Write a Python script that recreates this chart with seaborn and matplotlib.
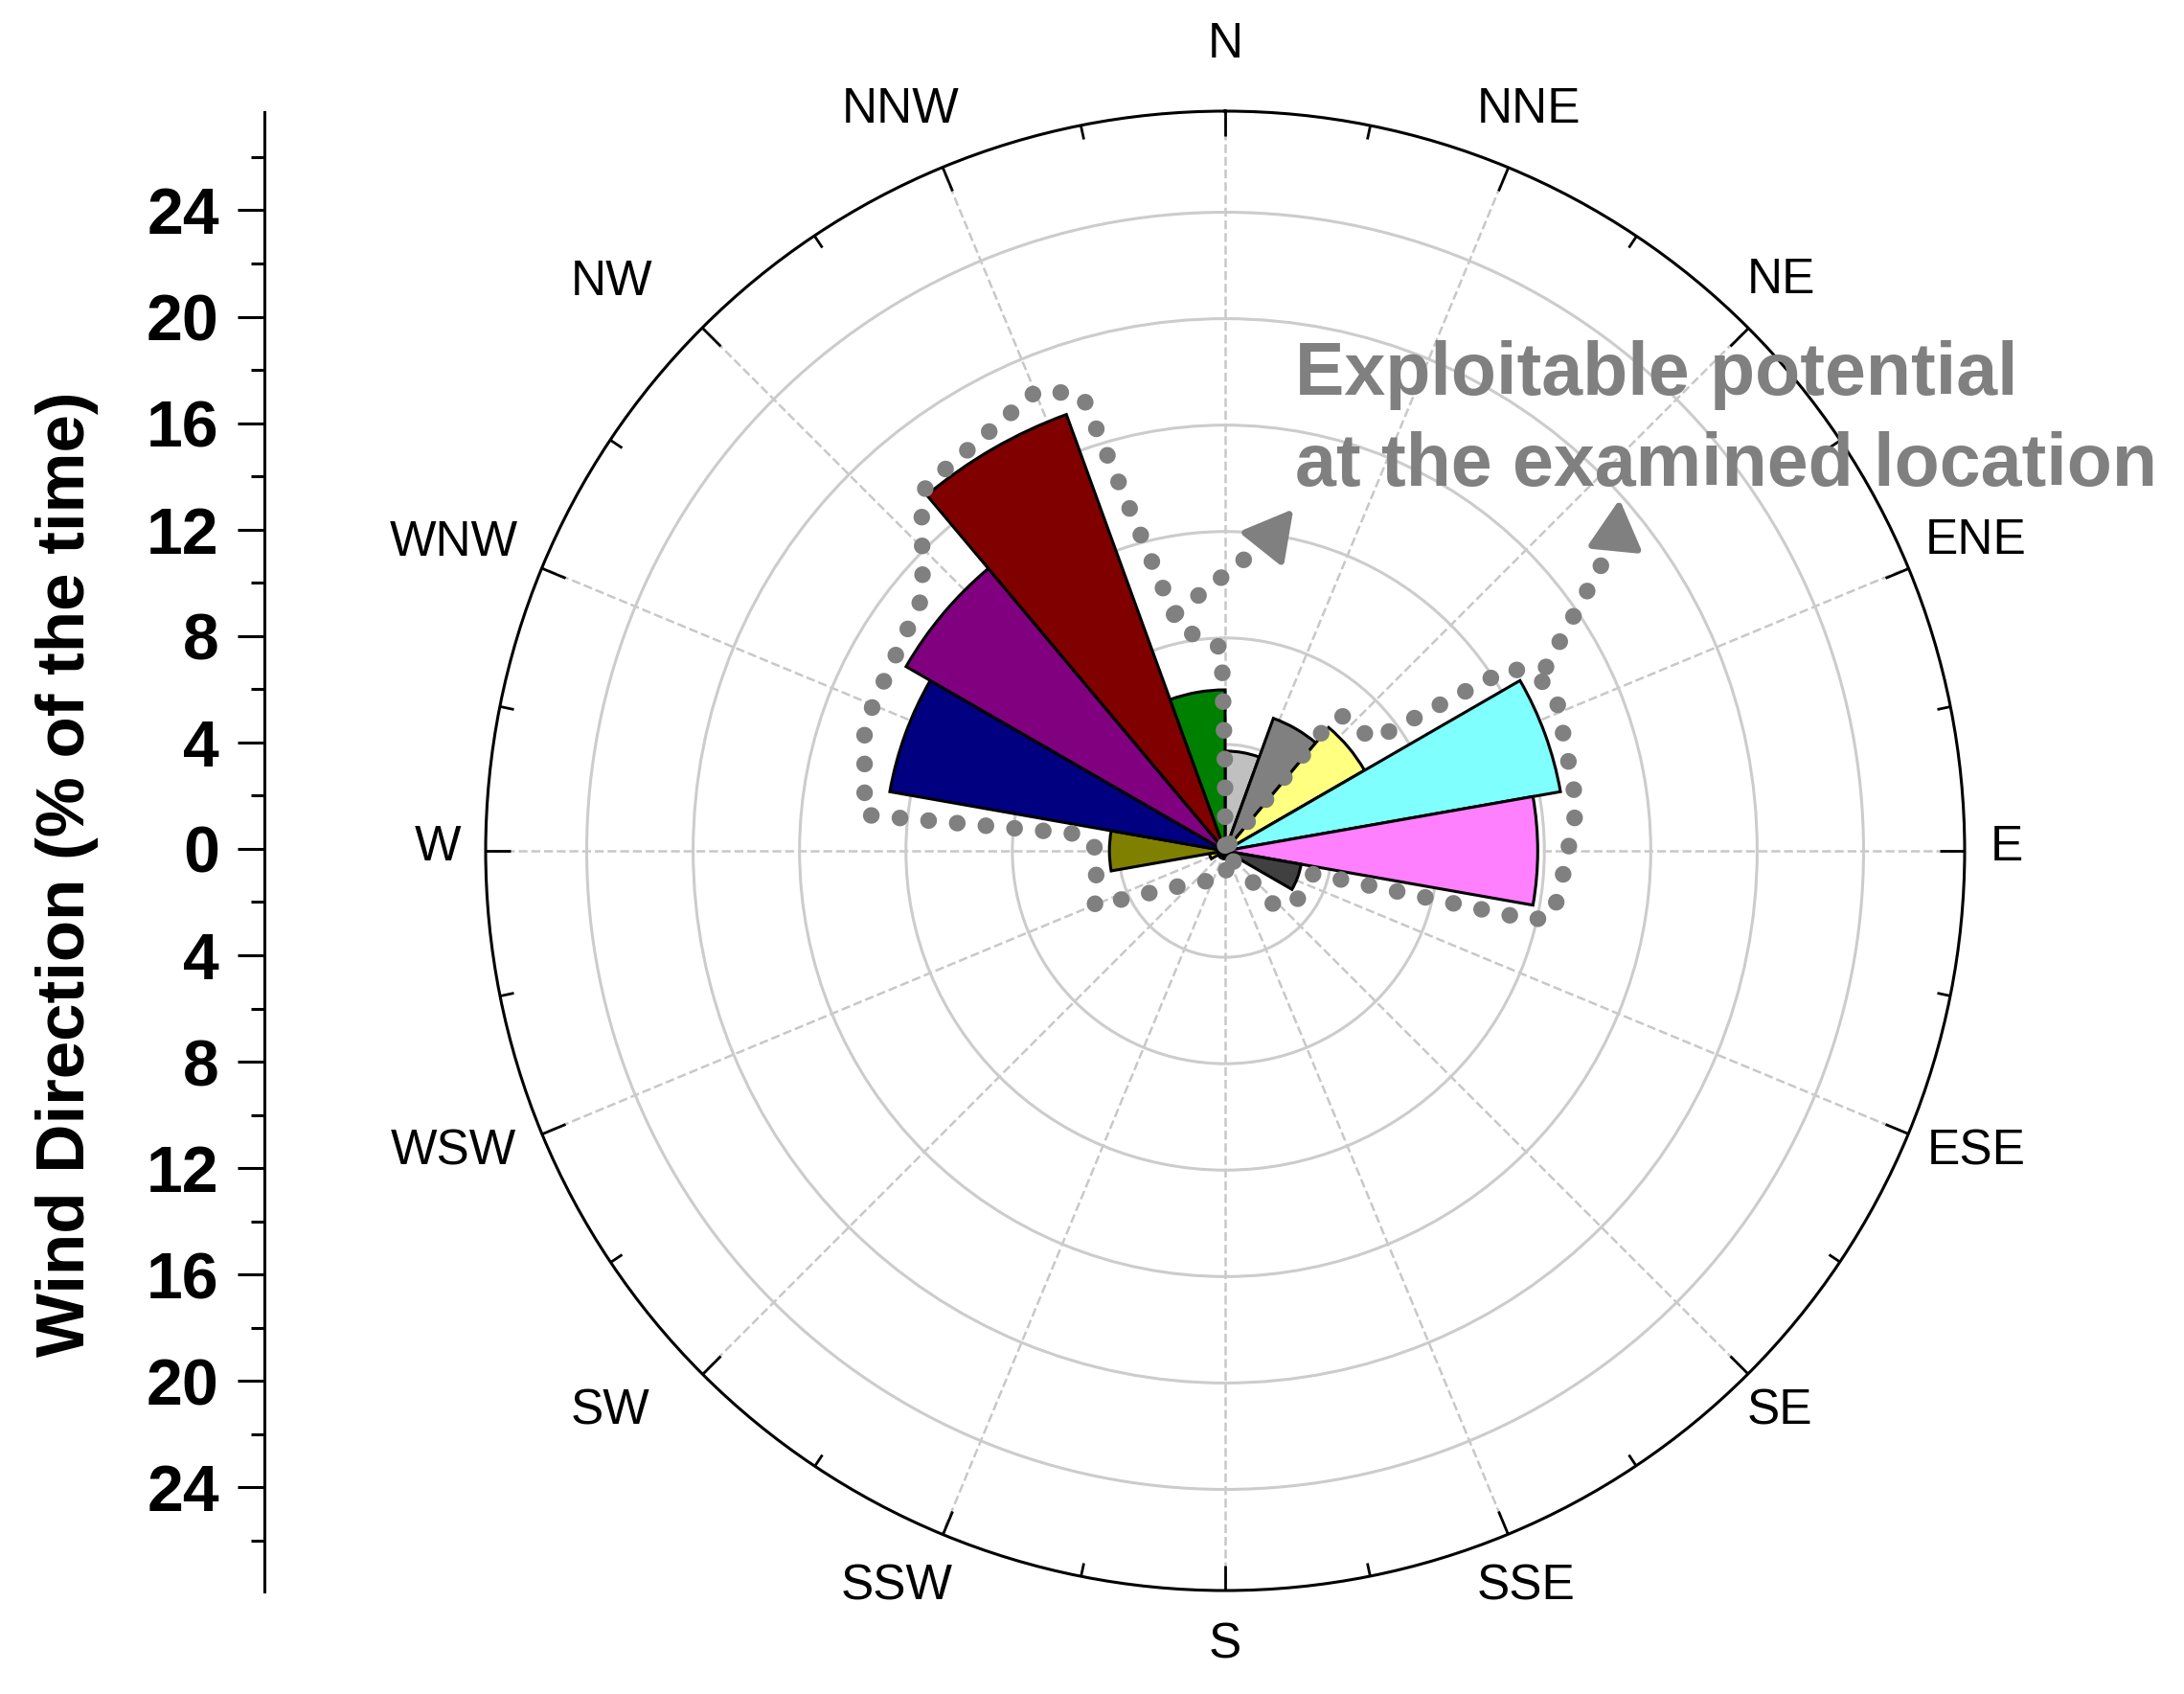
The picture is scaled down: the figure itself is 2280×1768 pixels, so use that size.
import numpy as np
import pandas as pd
import matplotlib
matplotlib.use('Agg')
import matplotlib.pyplot as plt
import seaborn as sns

# wind rose data, 20 degree sectors, clockwise from north
sector_start = [0, 20, 40, 60, 80, 100, 120, 140, 160, 180, 200, 220, 240, 260, 280, 300, 320, 340]
sector_share = [3.75, 5.3, 6.05, 12.8, 11.75, 2.9, 0.3, 0.3, 0.3, 0.3, 0.3, 0.3, 0.6, 4.35, 12.8, 13.85, 17.45, 6.05]
sector_color = ['#C0C0C0', '#808080', '#FFFF80', '#80FFFF', '#FF80FF', '#404040',
                '#000000', '#FF0000', '#00FF00', '#0000FF', '#00FFFF', '#FF00FF',
                '#FFFF00', '#808000', '#000080', '#800080', '#800000', '#008000']

compass_deg = np.arange(0, 360, 22.5)
compass_names = ['N', 'NNE', 'NE', 'ENE', 'E', 'ESE', 'SE', 'SSE',
                 'S', 'SSW', 'SW', 'WSW', 'W', 'WNW', 'NW', 'NNW']

r_max = 27.8
ring_values = [4, 8, 12, 16, 20, 24]
left_major = [-24, -20, -16, -12, -8, -4, 0, 4, 8, 12, 16, 20, 24]
left_labels = ['24', '20', '16', '12', '8', '4', '0', '4', '8', '12', '16', '20', '24']
left_minor = [-26, -22, -18, -14, -10, -6, -2, 2, 6, 10, 14, 18, 22, 26]

# dotted contour of the exploitable potential (degrees, percent)
west_deg = [0, 0, -1, -8.3, -12.2, 5.8]
west_r = [0.2, 3.0, 7.63, 8.18, 9.08, 11.35]
outline_deg = [-12.2, -17.4, -19.5, -22.4, -39.4, -41.9, -49.9, -67.6, -71.8, -84.3, -83.4, -90, -112.8, -141.7, -173.6, 120]
outline_r = [9.08, 17.9, 18.27, 18.67, 17.74, 17.08, 14.86, 14.33, 14.27, 13.62, 5.32, 4.81, 5.31, 1.45, 1.17, 0.3]
east_deg = [30, 39.3, 41.6, 53.1, 57.3, 60.8, 65, 82.8, 96.3, 101.2, 102.7, 104.5, 123.5, 137.8, 150]
east_r = [0.3, 6.45, 6.78, 6.93, 12.73, 13.44, 13.73, 13.33, 12.68, 12.54, 11.83, 3.43, 3.27, 2.89, 0.2]
branch_deg = [60.2, 52.4]
branch_r = [13.9, 18.02]
arrow_tails = [(7.5, 11.63), (51.8, 18.66)]
arrow_tips = [(11.3, 13.1), (48.3, 19.86)]

note_lines = ['Exploitable potential', 'at the examined location']
y_title = 'Wind Direction (% of the time)'

sns.set_style('white')
plt.rcParams['font.family'] = ['Liberation Sans', 'DejaVu Sans']

W, H = 2280, 1768
R = 772
cx, cy = 1279, 888
fig = plt.figure(figsize=(W / 100, H / 100), dpi=100)
ax = fig.add_axes([(cx - R) / W, (H - cy - R) / H, 2 * R / W, 2 * R / H], projection='polar')
ax_left = fig.add_axes([276 / W, (H - 1661) / H, 0.01, 1544 / H])

df = pd.DataFrame({'theta': np.deg2rad(np.array(sector_start) + 10), 'share': sector_share,
                   'sector': [str(s) for s in sector_start]})
sns.barplot(data=df, x='theta', y='share', hue='sector', palette=sector_color, native_scale=True, saturation=1,
            width=1, dodge=False, edgecolor='black', linewidth=2.2, legend=False, ax=ax)

ax.set_theta_zero_location('N')
ax.set_theta_direction(-1)
ax.set_xlabel('')
ax.set_ylabel('')
ax.set_xlim(0, 2 * np.pi)
ax.set_ylim(0, r_max)
ax.set_axisbelow(True)
ax.set_yticks(ring_values)
ax.set_yticklabels([])
ax.set_xticks(np.deg2rad(compass_deg))
ax.set_xticklabels([])
ax.set_xticks(np.deg2rad(compass_deg + 11.25), minor=True)
# tick2 is the one on the outer rim of a polar axes
ax.tick_params(axis='x', which='major', bottom=False, top=True, direction='in', length=19, width=2, color='black')
ax.tick_params(axis='x', which='minor', bottom=False, top=True, direction='in', length=10, width=2, color='black')
ax.xaxis.grid(True, which='major', color='#C8C8C8', linestyle='--', linewidth=1.8)
ax.xaxis.grid(False, which='minor')
ax.yaxis.grid(True, color='#CCCCCC', linestyle='-', linewidth=2.2)
ax.spines['polar'].set_color('black')
ax.spines['polar'].set_linewidth(2.2)

# compass labels are not quite radial in the original, offsets from the centre in pixels
label_dx = [0, 317, 581, 784, 816, 784, 579, 314, 0, -343, -642, -806, -822, -805, -640, -339]
label_dy = [841, 774, 595, 324, 4, -314, -585, -768, -829, -768, -585, -314, 4, 322, 593, 774]
for name, dx, dy in zip(compass_names, label_dx, label_dy):
    ax.annotate(name, xy=(0, 0), xytext=(dx, dy), textcoords='offset pixels', fontsize=37, color='black',
                ha='center', va='center', annotation_clip=False)

# dotted contour and arrows
dots = dict(color='#808080', linewidth=12.5, linestyle=(0, (0.01, 1.72)), dash_capstyle='round', zorder=5, clip_on=False)
ax.plot(np.deg2rad(west_deg), west_r, **dots)
ax.plot(np.deg2rad(outline_deg), outline_r, **dots)
ax.plot(np.deg2rad(east_deg), east_r, **dots)
ax.plot(np.deg2rad(branch_deg), branch_r, **dots)
for tail, tip in zip(arrow_tails, arrow_tips):
    ax.annotate('', xy=(np.deg2rad(tip[0]), tip[1]), xytext=(np.deg2rad(tail[0]), tail[1]), zorder=6,
                arrowprops=dict(arrowstyle='-|>,head_length=1.05,head_width=0.58', mutation_scale=30,
                                fc='#808080', ec='#808080', lw=5, shrinkA=0, shrinkB=0, joinstyle='round'))

fig.text(1352 / W, 1 - 391 / H, note_lines[0], fontsize=55.5, fontweight='bold', color='#808080', ha='left', va='center', zorder=10)
fig.text(1352 / W, 1 - 487 / H, note_lines[1], fontsize=55.5, fontweight='bold', color='#808080', ha='left', va='center', zorder=10)

# left scale
ax_left.set_ylim(-27.91, 27.69)
ax_left.set_xticks([])
ax_left.set_yticks(left_major)
ax_left.set_yticklabels(left_labels, fontsize=49, fontweight='bold', color='black')
ax_left.set_yticks(left_minor, minor=True)
ax_left.tick_params(axis='y', which='major', direction='out', length=20, width=2.2, color='black', pad=14, left=True)
ax_left.tick_params(axis='y', which='minor', direction='out', length=10, width=2.2, color='black', left=True)
ax_left.patch.set_alpha(0)
sns.despine(ax=ax_left, top=True, right=True, bottom=True)
ax_left.spines['left'].set_color('black')
ax_left.spines['left'].set_linewidth(2.2)
fig.text(70 / W, 1 - 912 / H, y_title, rotation=90, fontsize=51, fontweight='bold', color='black', ha='center', va='center')

fig.savefig('out.png', dpi=100)
